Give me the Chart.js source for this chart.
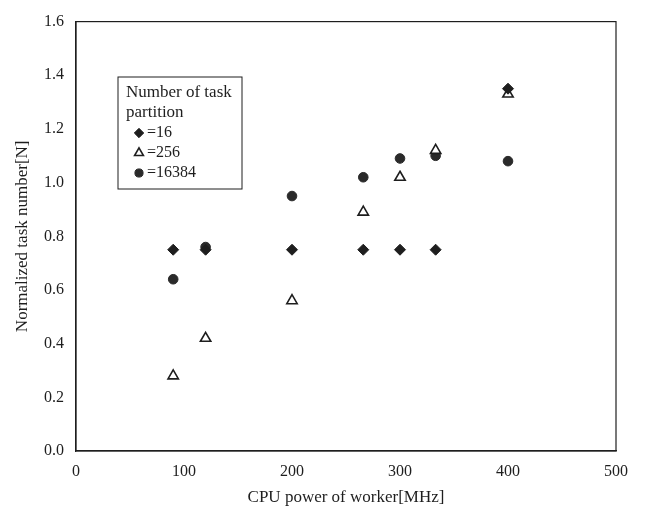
<!DOCTYPE html>
<html>
<head>
<meta charset="utf-8">
<script src="https://cdn.jsdelivr.net/npm/chart.js@4/dist/chart.umd.min.js"></script>
<style>
  html, body { margin: 0; padding: 0; background: #fff; }
  #wrap { width: 646px; height: 508px; }
</style>
</head>
<body>
<div id="wrap"><canvas id="chart" width="646" height="508"></canvas></div>
<script>
// CPU power of each worker (MHz)
const cpuPower = [90, 120, 200, 266, 300, 333, 400];
// normalized task number for each partition count
const part16 = [0.75, 0.75, 0.75, 0.75, 0.75, 0.75, 1.35];
const part256 = [0.28, 0.42, 0.56, 0.89, 1.02, 1.12, 1.33];
const part16384 = [0.64, 0.76, 0.95, 1.02, 1.09, 1.10, 1.08];
const seriesLabels = ['=16', '=256', '=16384'];
const legendTitle = ['Number of task', 'partition'];

const ink = '#1e1e1e';
const serif = '"Liberation Serif", "DejaVu Serif", serif';

function toPoints(ys) {
    return cpuPower.map((x, i) => ({ x: x, y: ys[i] }));
}

// box around the plot area
const frame = {
    id: 'frame',
    afterDraw(chart) {
        const a = chart.chartArea, c = chart.ctx;
        c.save();
        c.strokeStyle = ink;
        c.lineWidth = 1.2;
        c.strokeRect(a.left, a.top, a.right - a.left, a.bottom - a.top);
        c.restore();
    }
};

// legend box with a two-line title, drawn inside the plot
const boxLegend = {
    id: 'boxLegend',
    afterDraw(chart) {
        const c = chart.ctx;
        const x = 118, y = 77, w = 124, h = 112;
        c.save();
        c.fillStyle = '#fff';
        c.fillRect(x, y, w, h);
        c.strokeStyle = ink;
        c.lineWidth = 1;
        c.strokeRect(x, y, w, h);
        c.fillStyle = ink;
        c.font = '17px ' + serif;
        c.textBaseline = 'middle';
        c.fillText(legendTitle[0], x + 8, y + 16);
        c.fillText(legendTitle[1], x + 8, y + 36);
        chart.data.datasets.forEach((ds, i) => {
            const ly = y + 56 + i * 20;
            c.fillStyle = ds.backgroundColor;
            c.strokeStyle = ds.borderColor;
            c.lineWidth = ds.borderWidth;
            Chart.helpers.drawPoint(c, {
                pointStyle: ds.pointStyle,
                radius: ds.pointRadius * 0.85,
                borderWidth: ds.borderWidth
            }, x + 21, ly);
            c.fillStyle = ink;
            c.font = '16px ' + serif;
            c.fillText(ds.label, x + 29, ly);
        });
        c.restore();
    }
};

new Chart(document.getElementById('chart'), {
    type: 'scatter',
    data: {
        datasets: [
            {
                label: seriesLabels[0], data: toPoints(part16),
                pointStyle: 'rectRot', pointRadius: 5.5,
                backgroundColor: ink, borderColor: ink, borderWidth: 1
            },
            {
                label: seriesLabels[1], data: toPoints(part256),
                pointStyle: 'triangle', pointRadius: 6,
                backgroundColor: '#fff', borderColor: ink, borderWidth: 1.6
            },
            {
                label: seriesLabels[2], data: toPoints(part16384),
                pointStyle: 'circle', pointRadius: 4.8,
                backgroundColor: '#2a2a2a', borderColor: '#2a2a2a', borderWidth: 1
            }
        ]
    },
    options: {
        responsive: false,
        animation: false,
        layout: { padding: { left: 0, top: 13, right: 30, bottom: 0 } },
        plugins: {
            legend: { display: false },
            tooltip: { enabled: false }
        },
        scales: {
            x: {
                type: 'linear', min: 0, max: 500,
                grid: { display: false, drawTicks: false },
                border: { display: true, color: ink, width: 1.2 },
                ticks: { stepSize: 100, color: ink, font: { family: serif, size: 16 }, padding: 11 },
                title: {
                    display: true, text: 'CPU power of worker[MHz]', color: ink,
                    font: { family: serif, size: 17 }, padding: { top: 3, bottom: 0 }
                },
                afterFit(scale) { scale.height = 57; }
            },
            y: {
                type: 'linear', min: 0, max: 1.6,
                grid: { display: false, drawTicks: false },
                border: { display: true, color: ink, width: 1.2 },
                ticks: {
                    stepSize: 0.2, color: ink, font: { family: serif, size: 16 }, padding: 12,
                    callback: v => v.toFixed(1)
                },
                title: {
                    display: true, text: 'Normalized task number[N]', color: ink,
                    font: { family: serif, size: 17 }, padding: { top: 12, bottom: 4 }
                },
                afterFit(scale) { scale.width = 76; }
            }
        }
    },
    plugins: [frame, boxLegend]
});
</script>
</body>
</html>
